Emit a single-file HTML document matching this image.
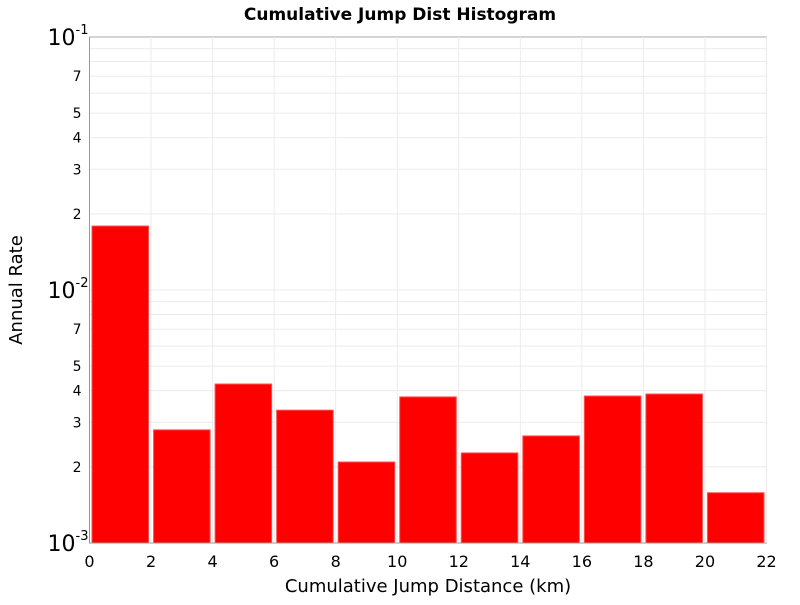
<!DOCTYPE html>
<html><head><meta charset="utf-8"><style>
body{margin:0;background:#fff;font-family:"Liberation Sans","DejaVu Sans",sans-serif}
</style></head><body>
<svg id="chart" width="800" height="600" xmlns="http://www.w3.org/2000/svg" font-family="DejaVu Sans, Liberation Sans, sans-serif">
<text x="400" y="20" text-anchor="middle" font-size="17" font-weight="bold">Cumulative Jump Dist Histogram</text>
<text x="428" y="592" text-anchor="middle" font-size="18">Cumulative Jump Distance (km)</text>
<text transform="translate(22,290) rotate(-90)" text-anchor="middle" font-size="18">Annual Rate</text>
<g id="grid"></g><g id="bars"></g><g id="axes"></g>
</svg>
<script>
const binStarts=[0,2,4,6,8,10,12,14,16,18,20];
const rates=[0.0179,0.0028,0.00425,0.00335,0.00209,0.00378,0.00227,0.00265,0.00381,0.00388,0.00158];
const xTicks=[0,2,4,6,8,10,12,14,16,18,20,22];
const yMinorLabels=[2,3,4,5,7];
const binWidth=2;
const L=89.5,R=766.5,T=37,B=543;
const NS='http://www.w3.org/2000/svg';
function xs(v){return L+(v-0)/(22-0)*(R-L);}
function ys(v){return B-(Math.log10(v)+3)/2*(B-T);}
function mk(p,tag,a){const e=document.createElementNS(NS,tag);for(const k in a)e.setAttribute(k,a[k]);p.appendChild(e);return e;}
const grid=document.getElementById('grid'),bars=document.getElementById('bars'),axes=document.getElementById('axes');
mk(grid,'rect',{x:L,y:T,width:R-L,height:B-T,fill:'#fff',stroke:'#aaa'});
xTicks.forEach(t=>{const l=mk(grid,'line',{x1:xs(t),x2:xs(t),y1:T,y2:B,stroke:'#ebebeb'});

});
[-3,-2].forEach(d=>{for(let m=1;m<=9;m++){const v=m*Math.pow(10,d);const y=ys(v);
const l=mk(grid,'line',{x1:L,x2:R,y1:y,y2:y,stroke:'#ebebeb'});


if(yMinorLabels.includes(m)){const t=mk(axes,'text',{x:L-8,y:y+5,'text-anchor':'end','font-size':14});t.textContent=m;

}}});
binStarts.forEach((s,i)=>{const x0=xs(s)+2.5,x1=xs(s+binWidth)-2.5,y=ys(rates[i]);
const r=mk(bars,'rect',{x:x0,y:y,width:x1-x0,height:B-y,fill:'#ff0000',stroke:'#ff5050','stroke-width':1});

});
mk(axes,'line',{x1:L,x2:L,y1:T,y2:B,stroke:'#999'});
mk(axes,'line',{x1:L,x2:R,y1:B,y2:B,stroke:'#999'});
xTicks.forEach(t=>{const e=mk(axes,'text',{x:xs(t),y:567,'text-anchor':'middle','font-size':16});e.textContent=t;

});
[-3,-2,-1].forEach(d=>{const y=ys(Math.pow(10,d));
const e=mk(axes,'text',{x:L-14,y:y+8,'text-anchor':'end','font-size':22});e.textContent='10';


const s=mk(axes,'text',{x:L-14,y:y-3,'font-size':13});s.textContent=String(d);

});
</script>
</body></html>
